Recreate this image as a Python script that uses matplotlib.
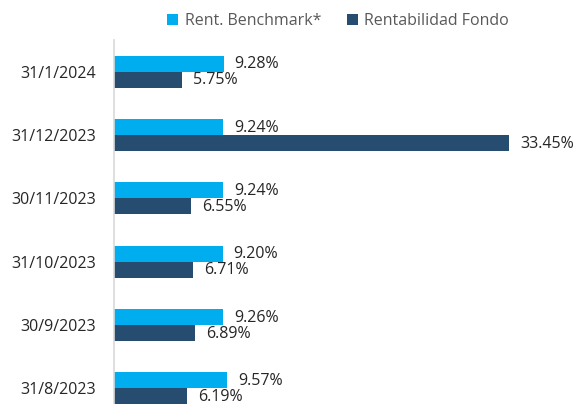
import matplotlib.pyplot as plt
import numpy as np

plt.rcParams['font.family'] = ['Open Sans', 'DejaVu Sans']

fechas = ['31/1/2024', '31/12/2023', '30/11/2023', '31/10/2023', '30/9/2023', '31/8/2023']
benchmark = [9.28, 9.24, 9.24, 9.20, 9.26, 9.57]
fondo = [5.75, 33.45, 6.55, 6.71, 6.89, 6.19]

c_bench = '#00AEEF'
c_fondo = '#264D6F'
txt = '#262626'

fig = plt.figure(figsize=(5.76, 4.04), dpi=100)
ax = fig.add_axes([114 / 576, 0, 462 / 576, 364 / 404])

y = np.arange(len(fechas))
h = 0.253
ax.barh(y - h / 2, benchmark, height=h, color=c_bench, label='Rent. Benchmark*')
ax.barh(y + h / 2, fondo, height=h, color=c_fondo, label='Rentabilidad Fondo')

for i in range(len(fechas)):
    ax.annotate(f'{benchmark[i]:.2f}%', (benchmark[i], y[i] - h / 2), xytext=(8, -0.5),
                textcoords='offset points', va='center', ha='left', fontsize=11.5, color=txt)
    ax.annotate(f'{fondo[i]:.2f}%', (fondo[i], y[i] + h / 2), xytext=(8, -0.5),
                textcoords='offset points', va='center', ha='left', fontsize=11.5, color=txt)

ax.set_xlim(0, 462 / 11.8)
ax.set_ylim(5.25, -0.5)
ax.set_yticks(y)
ax.set_yticklabels(fechas, fontsize=11.5, color=txt)
ax.tick_params(axis='y', length=0, pad=13)
ax.set_xticks([])
for s in ['top', 'right', 'bottom']:
    ax.spines[s].set_visible(False)
ax.spines['left'].set_color('#D9D9D9')
ax.spines['left'].set_linewidth(1.2)

fig.legend(loc='center', bbox_to_anchor=(338 / 576, 1 - 21 / 404), ncol=2, frameon=False,
           handlelength=0.7, handleheight=0.7, handletextpad=0.4, columnspacing=1.6,
           fontsize=11.5, labelcolor='#595959')

fig.savefig('out.png', dpi=100)
